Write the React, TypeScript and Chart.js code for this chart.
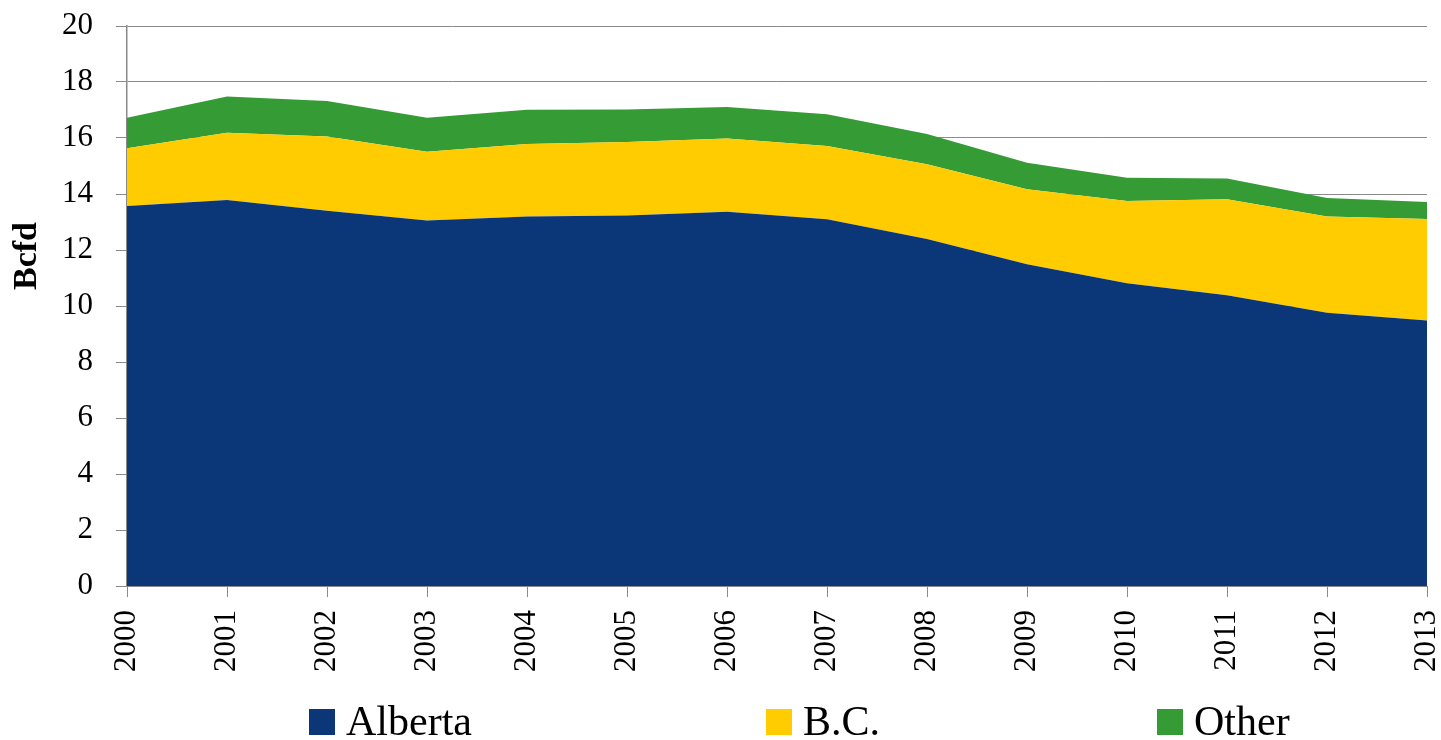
import React, { useEffect, useRef } from "react";
import { Chart, registerables } from "chart.js";

Chart.register(...registerables);

const years = ["2000", "2001", "2002", "2003", "2004", "2005", "2006", "2007", "2008", "2009", "2010", "2011", "2012", "2013"];
const alberta = [13.57, 13.79, 13.4, 13.05, 13.2, 13.23, 13.37, 13.1, 12.39, 11.49, 10.81, 10.38, 9.76, 9.48];
const bc = [2.06, 2.4, 2.65, 2.46, 2.59, 2.63, 2.61, 2.61, 2.67, 2.68, 2.94, 3.43, 3.44, 3.63];
const other = [1.09, 1.29, 1.27, 1.21, 1.22, 1.16, 1.13, 1.14, 1.08, 0.95, 0.83, 0.74, 0.66, 0.6];
const seriesNames = ["Alberta", "B.C.", "Other"];
const seriesColors = ["#0b3677", "#fecc00", "#359b35"];
const yTicks = [0, 2, 4, 6, 8, 10, 12, 14, 16, 18, 20];
const yTitle = "Bcfd";

const FONT = "'Liberation Serif', 'DejaVu Serif', serif";
const GRID = "#8a8a8a";
const legendX = [309, 766, 1157];

const extrasPlugin = {
  id: "extras",
  afterDraw(chart: any) {
    const ctx = chart.ctx;
    ctx.save();
    // legend
    ctx.font = `42px ${FONT}`;
    ctx.textBaseline = "alphabetic";
    ctx.textAlign = "left";
    const box = 26;
    const baseline = 735;
    seriesNames.forEach((name, i) => {
      const x = legendX[i];
      ctx.fillStyle = seriesColors[i];
      ctx.fillRect(x, baseline - box, box, box);
      ctx.fillStyle = "#000";
      ctx.fillText(name, x + box + 11, baseline);
    });
    // y axis title
    ctx.font = `bold 34px ${FONT}`;
    ctx.textAlign = "center";
    ctx.textBaseline = "alphabetic";
    ctx.translate(36, 256);
    ctx.rotate(-Math.PI / 2);
    ctx.fillStyle = "#000";
    ctx.fillText(yTitle, 0, 0);
    ctx.restore();
  },
};

export default function App() {
  const ref = useRef<HTMLCanvasElement | null>(null);
  useEffect(() => {
    document.body.style.margin = "0";
    document.body.style.overflow = "hidden";
    const canvas = ref.current!;
    const data = [alberta, bc, other];
    const chart = new Chart(canvas, {
      type: "line",
      data: {
        labels: years,
        datasets: seriesNames.map((name, i) => ({
          label: name,
          data: data[i],
          backgroundColor: seriesColors[i],
          borderColor: seriesColors[i],
          borderWidth: 0,
          pointRadius: 0,
          fill: i === 0 ? "origin" : "-1",
          tension: 0,
        })),
      },
      options: {
        animation: false,
        responsive: true,
        maintainAspectRatio: false,
        layout: { padding: { top: 26, right: 14, left: 0, bottom: 0 } },
        plugins: {
          legend: { display: false },
          tooltip: { enabled: false },
        },
        scales: {
          x: {
            type: "category",
            offset: false,
            grid: {
              display: true,
              drawOnChartArea: false,
              drawTicks: true,
              tickLength: 11,
              color: GRID,
            },
            border: { display: true, color: GRID, width: 1 },
            ticks: {
              autoSkip: false,
              minRotation: 90,
              maxRotation: 90,
              padding: 13,
              color: "#000",
              font: { family: FONT, size: 31 },
            },
            afterFit(scale: any) {
              scale.height = 154;
              scale.paddingLeft = 0;
              scale.paddingRight = 0;
            },
          },
          y: {
            stacked: true,
            min: 0,
            max: 20,
            afterBuildTicks(scale: any) {
              scale.ticks = yTicks.map((v) => ({ value: v }));
            },
            grid: {
              color: GRID,
              lineWidth: 1,
              drawTicks: true,
              tickLength: 11,
            },
            border: { display: true, color: GRID, width: 1.5 },
            ticks: {
              padding: 23,
              color: "#000",
              font: { family: FONT, size: 31 },
            },
            title: { display: false },
            afterFit(scale: any) {
              scale.width = 127;
              scale.paddingTop = 0;
              scale.paddingBottom = 0;
            },
          },
        },
      } as any,
      plugins: [extrasPlugin],
    });
    return () => chart.destroy();
  }, []);
  return (
    <div style={{ width: "1441px", height: "740px", position: "relative" }}>
      <canvas ref={ref} />
    </div>
  );
}
